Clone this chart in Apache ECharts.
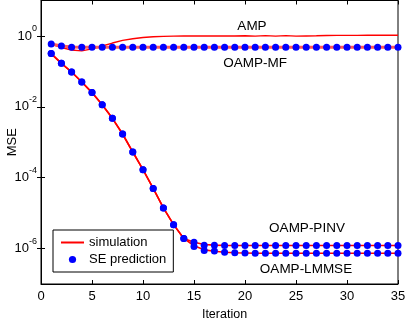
<!DOCTYPE html>
<html>
<head>
<meta charset="utf-8">
<script src="https://cdn.jsdelivr.net/npm/echarts@6/dist/echarts.min.js"></script>
<style>
html, body { margin: 0; padding: 0; background: #fff; }
#chart { width: 415px; height: 323px; }
</style>
</head>
<body>
<div id="chart"></div>
<script>
var iterations = [1,2,3,4,5,6,7,8,9,10,11,12,13,14,15,16,17,18,19,20,21,22,23,24,25,26,27,28,29,30,31,32,33,34,35];

// AMP (simulation only)
var ampSim = [0.59,0.47,0.40,0.38,0.43,0.52,0.63,0.75,0.83,0.90,0.95,0.97,0.99,1.0,1.0,1.0,1.0,1.0,1.0,1.01,0.99,1.02,0.99,1.02,0.99,1.0,1.01,1.03,1.04,1.04,1.04,1.05,1.05,1.05,1.05];

// OAMP-MF
var mfSim = [0.59,0.52,0.49,0.48,0.48,0.48,0.48,0.48,0.48,0.48,0.48,0.48,0.48,0.48,0.48,0.48,0.48,0.48,0.48,0.48,0.48,0.48,0.48,0.48,0.48,0.48,0.48,0.48,0.48,0.48,0.48,0.48,0.48,0.48,0.48];
var mfSE = [0.59,0.52,0.48,0.48,0.48,0.48,0.48,0.48,0.48,0.48,0.48,0.48,0.48,0.48,0.48,0.48,0.48,0.48,0.48,0.48,0.48,0.48,0.48,0.48,0.48,0.48,0.48,0.48,0.48,0.48,0.48,0.48,0.48,0.48,0.48];

// OAMP-PINV
var pinvSim = [0.318,0.169,0.096,0.050,0.0252,0.0115,0.00473,0.00171,5.3e-4,1.68e-4,4.99e-5,1.40e-5,4.73e-6,1.93e-6,1.50e-6,1.30e-6,1.25e-6,1.23e-6,1.22e-6,1.22e-6,1.22e-6,1.22e-6,1.22e-6,1.22e-6,1.22e-6,1.22e-6,1.22e-6,1.22e-6,1.22e-6,1.22e-6,1.22e-6,1.22e-6,1.22e-6,1.22e-6,1.22e-6];
var pinvSE = [0.318,0.169,0.096,0.050,0.0252,0.0115,0.00473,0.00171,5.3e-4,1.68e-4,4.99e-5,1.40e-5,4.73e-6,1.93e-6,1.51e-6,1.25e-6,1.24e-6,1.23e-6,1.22e-6,1.22e-6,1.22e-6,1.22e-6,1.22e-6,1.22e-6,1.22e-6,1.22e-6,1.22e-6,1.22e-6,1.22e-6,1.22e-6,1.22e-6,1.22e-6,1.22e-6,1.22e-6,1.22e-6];

// OAMP-LMMSE
var lmmseSim = [0.318,0.169,0.096,0.050,0.0252,0.0115,0.00473,0.00171,5.3e-4,1.68e-4,4.99e-5,1.40e-5,4.73e-6,1.93e-6,1.20e-6,9.2e-7,8.4e-7,7.9e-7,7.6e-7,7.5e-7,7.4e-7,7.4e-7,7.4e-7,7.4e-7,7.4e-7,7.4e-7,7.4e-7,7.4e-7,7.4e-7,7.4e-7,7.4e-7,7.4e-7,7.4e-7,7.4e-7,7.4e-7];
var lmmseSE = [0.318,0.169,0.096,0.050,0.0252,0.0115,0.00473,0.00171,5.3e-4,1.68e-4,4.99e-5,1.40e-5,4.73e-6,1.93e-6,1.14e-6,8.8e-7,8.6e-7,7.9e-7,7.6e-7,7.5e-7,7.4e-7,7.4e-7,7.4e-7,7.4e-7,7.4e-7,7.4e-7,7.4e-7,7.4e-7,7.4e-7,7.4e-7,7.4e-7,7.4e-7,7.4e-7,7.4e-7,7.4e-7];

var yLabelValues = [1e-6, 1e-4, 1e-2, 1];

var font = '"Liberation Sans", Arial, sans-serif';

function pairs(ys) {
    var out = [];
    for (var i = 0; i < iterations.length; i++) {
        out.push([iterations[i], ys[i]]);
    }
    return out;
}

function simSeries(ys, width, color) {
    return {
        name: 'simulation',
        type: 'line',
        data: pairs(ys),
        symbol: 'none',
        lineStyle: { color: color || '#ff0000', width: width || 1.6 },
        itemStyle: { color: '#ff0000' },
        z: 2,
        animation: false
    };
}

function seSeries(ys) {
    return {
        name: 'SE prediction',
        type: 'line',
        data: pairs(ys),
        symbol: 'circle',
        symbolSize: 7,
        showSymbol: true,
        lineStyle: { width: 0, opacity: 0 },
        itemStyle: { color: '#0000ff' },
        z: 3,
        animation: false
    };
}

var chart = echarts.init(document.getElementById('chart'));

var option = {
    backgroundColor: '#fff',
    animation: false,
    textStyle: { fontFamily: font },
    grid: {
        left: 41, right: 17, top: 0.5, bottom: 39,
        outerBoundsMode: 'none',
        containLabel: false,
        show: true, borderColor: '#000', borderWidth: 1
    },
    legend: {
        orient: 'vertical',
        left: 53, top: 230,
        backgroundColor: '#fff',
        borderColor: '#000',
        borderWidth: 1,
        borderRadius: 0,
        padding: [6, 7, 6, 7],
        itemWidth: 23,
        itemHeight: 9,
        itemGap: 4,
        textStyle: { fontSize: 13, color: '#000', fontFamily: font },
        data: [
            { name: 'simulation', itemStyle: { opacity: 0 } },
            'SE prediction'
        ]
    },
    xAxis: [{
        type: 'value',
        min: 0, max: 35, interval: 5,
        name: 'Iteration',
        nameLocation: 'middle',
        nameGap: 21,
        nameTextStyle: { fontSize: 12.5, color: '#000', padding: [0, 0, 0, 10] },
        axisLine: { lineStyle: { color: '#000' } },
        axisTick: { inside: true, length: 4, lineStyle: { color: '#000' } },
        axisLabel: { fontSize: 13, color: '#000', margin: 6 },
        splitLine: { show: false }
    }, {
        type: 'value',
        position: 'top',
        min: 0, max: 35, interval: 5,
        axisLine: { lineStyle: { color: '#000' } },
        axisTick: { inside: true, length: 4, lineStyle: { color: '#000' } },
        axisLabel: { show: false },
        splitLine: { show: false }
    }],
    yAxis: [{
        type: 'log',
        logBase: 10,
        min: 1e-7, max: 10,
        name: 'MSE',
        nameLocation: 'middle',
        nameGap: 29,
        nameMoveOverlap: false,
        nameTextStyle: { fontSize: 13, color: '#000', verticalAlign: 'middle' },
        axisLine: { lineStyle: { color: '#000' } },
        axisTick: { inside: true, length: 4, lineStyle: { color: '#000' }, customValues: yLabelValues },
        axisLabel: {
            customValues: yLabelValues,
            margin: 4,
            padding: [0, 0, 5, 0],
            formatter: function (v) {
                var e = Math.round(Math.log10(v));
                return '{b|10}{s|' + e + '}';
            },
            rich: {
                b: { fontSize: 13, color: '#000', fontFamily: font, lineHeight: 18, verticalAlign: 'bottom' },
                s: { fontSize: 9, color: '#000', fontFamily: font, lineHeight: 18, verticalAlign: 'top' }
            }
        },
        splitLine: { show: false }
    }, {
        type: 'log',
        logBase: 10,
        position: 'right',
        min: 1e-7, max: 10,
        axisLine: { lineStyle: { color: '#000' } },
        axisTick: { inside: true, length: 4, lineStyle: { color: '#000' }, customValues: yLabelValues },
        axisLabel: { show: false },
        splitLine: { show: false }
    }],
    graphic: [
        { type: 'text', x: 252, y: 26, style: { text: 'AMP', fontSize: 13.5, fill: '#000', fontFamily: font, align: 'center', verticalAlign: 'middle' } },
        { type: 'text', x: 255, y: 63, style: { text: 'OAMP-MF', fontSize: 13.5, fill: '#000', fontFamily: font, align: 'center', verticalAlign: 'middle' } },
        { type: 'text', x: 307, y: 228, style: { text: 'OAMP-PINV', fontSize: 13.5, fill: '#000', fontFamily: font, align: 'center', verticalAlign: 'middle' } },
        { type: 'text', x: 306, y: 269, style: { text: 'OAMP-LMMSE', fontSize: 13.5, fill: '#000', fontFamily: font, align: 'center', verticalAlign: 'middle' } }
    ],
    series: [
        simSeries(ampSim, 1.4),
        simSeries(mfSim, 3, '#ff5a5a'),
        simSeries(pinvSim, 1.6),
        simSeries(lmmseSim, 1.6),
        seSeries(mfSE),
        seSeries(pinvSE),
        seSeries(lmmseSE)
    ]
};

chart.setOption(option);
</script>
</body>
</html>
